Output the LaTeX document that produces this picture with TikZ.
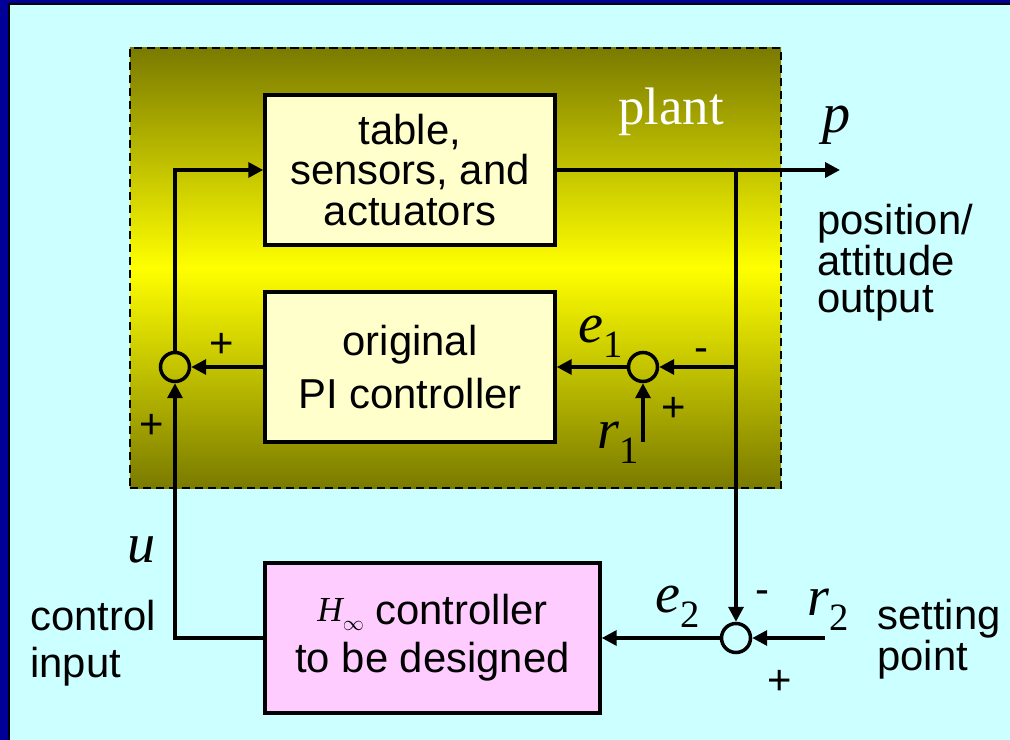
\documentclass[tikz,border=0pt]{standalone}
\usepackage{fontspec}
\setmainfont{Liberation Serif}
\setsansfont{Liberation Sans}
\usetikzlibrary{arrows.meta}
\definecolor{frameBlue}{RGB}{0,0,153}
\definecolor{paneBg}{RGB}{204,255,255}
\definecolor{plantDk}{RGB}{122,122,0}
\definecolor{plantLt}{RGB}{255,255,0}
\definecolor{blkBg}{RGB}{255,255,204}
\definecolor{hinfBg}{RGB}{255,204,255}
% italic signal name with a lowered subscript
\newcommand{\sig}[2]{{\fontsize{32}{32}\selectfont\itshape #1}\raisebox{-9pt}{\fontsize{22}{22}\selectfont #2}}

\begin{document}
\begin{tikzpicture}[
  x=0.2mm, y=-0.2mm,
  blk/.style  ={draw=black, line width=2pt, fill=blkBg, align=center, inner sep=0pt,
                minimum width=58mm, minimum height=30mm, font=\sffamily\fontsize{23.8}{22.8}\selectfont},
  sumpt/.style={draw=black, line width=2pt, circle, minimum size=5.8mm, inner sep=0pt},
  plantbox/.style={draw=black, line width=1.1pt, dash pattern=on 4.6pt off 2.8pt,
                top color=plantDk, bottom color=plantDk, middle color=plantLt,
                minimum width=130.2mm, minimum height=88mm, inner sep=0pt},
  flow/.style ={-{Triangle[length=8.5pt,width=8.5pt]}, line width=2pt, draw=black},
  lbl/.style  ={font=\sffamily\fontsize{23.8}{21}\selectfont, align=left, inner sep=0pt, anchor=base west},
  sgn/.style  ={font=\sffamily\fontsize{23.8}{23.8}\selectfont, inner sep=0pt, anchor=base},
  sym/.style  ={inner sep=0pt, anchor=base west},
]

% ============ FRAME ============
\useasboundingbox (0,0) rectangle (1010,740);
\fill[frameBlue] (0,0) rectangle (1010,740);
\draw[draw=black, line width=1.1pt, fill=paneBg] (9,4) rectangle (1030,760);

% ============ PLANT ============
\node[plantbox] (plant) at (455.5,268) {};
\node[sym, text=white, font=\fontsize{30}{30}\selectfont] (plantlbl) at (618,125) {plant};

\node[blk] (table) at (410,170) {table,\\sensors, and\\actuators};
\node[blk, font=\sffamily\fontsize{23.8}{30}\selectfont] (pi) at (410,367) {original\\PI controller};

\node[sumpt] (sumL)  at (175,367) {};
\node[sumpt] (sumE1) at (643,367) {};

\coordinate (br)   at (736,170);
\coordinate (pout) at (840,170);
\coordinate (fb1)  at (736,367);
\coordinate (r1)   at (643,442);

\draw[flow] (table.east) -- (pout);
\draw[flow] (sumL.north) |- (table.west);
\draw[flow] (pi.west) -- (sumL.east);
\draw[flow] (fb1) -- (sumE1.east);
\draw[flow] (sumE1.west) -- (pi.east);
\draw[flow] (r1) -- (sumE1.south);

% ============ H-INFINITY LOOP ============
\node[blk, fill=hinfBg, minimum width=67mm, font=\sffamily\fontsize{23.8}{27.3}\selectfont] (hinf) at (432.5,638)
  {\raisebox{2pt}{\fontsize{20}{20}\selectfont\rmfamily\itshape H}\raisebox{-3pt}{\fontsize{12}{12}\selectfont$\infty$} controller\\to be designed};
\node[sumpt] (sumE2) at (736,638) {};
\coordinate (r2) at (825,638);

\draw[flow] (br) -- (sumE2.north);
\draw[flow] (r2) -- (sumE2.east);
\draw[flow] (sumE2.west) -- (hinf.east);
\draw[flow] (hinf.west) -| (sumL.south);

% ============ LABELS ============
\node[sym] (plbl)  at (822,133) {\fontsize{32}{32}\selectfont\itshape p};
\node[sym] (ulbl)  at (127,562) {\fontsize{32}{32}\selectfont\itshape u};
\node[sym] (e1lbl) at (578,342) {\sig{e}{1}};
\node[sym] (r1lbl) at (597,448) {\sig{r}{1}};
\node[sym] (e2lbl) at (655,612) {\sig{e}{2}};
\node[sym] (r2lbl) at (807,615) {\sig{r}{2}};

% multi-line labels: base is the last line
\node[lbl] (outlbl) at (817,312) {position/\\attitude\\output};
\node[lbl, font=\sffamily\fontsize{23.8}{26.7}\selectfont] (inlbl) at (30,677) {control\\input};
\node[lbl] (setlbl) at (877,670) {setting\\point};

\node[sgn] (pl1) at (222,357) {+};
\node[sgn] (pl2) at (152,438) {+};
\node[sgn] (mi1) at (701,361) {-};
\node[sgn] (pl3) at (674,421) {+};
\node[sgn] (mi2) at (762,603) {-};
\node[sgn] (pl4) at (780,694) {+};

\end{tikzpicture}
\end{document}
